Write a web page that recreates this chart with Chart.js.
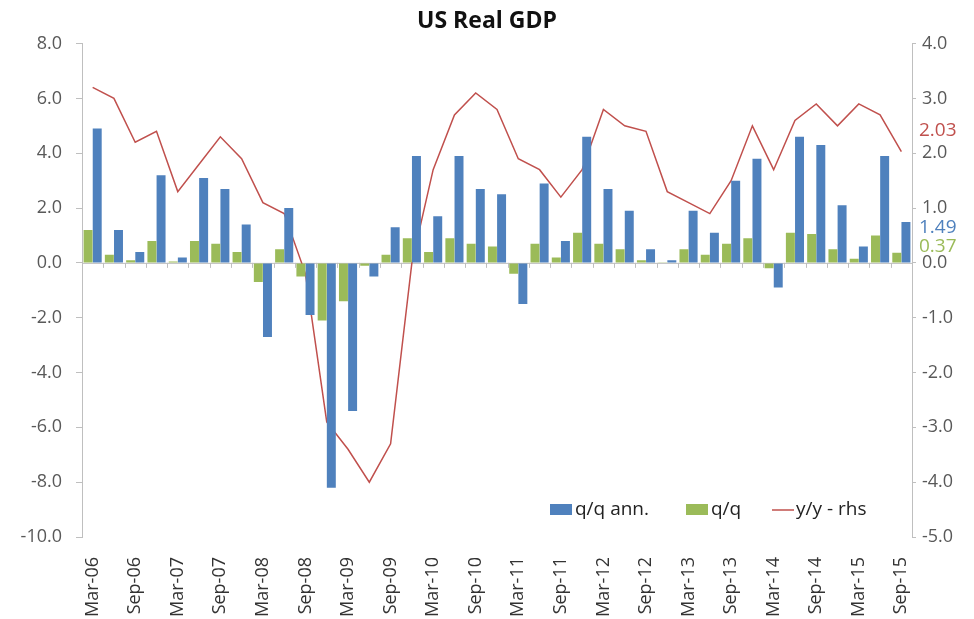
<!DOCTYPE html>
<html>
<head>
<meta charset="utf-8">
<title>US Real GDP</title>
<script src="https://cdn.jsdelivr.net/npm/chart.js@4"></script>
<style>
  html, body { margin: 0; padding: 0; background: #fff; }
  #wrap { width: 974px; height: 619px; position: relative; }
</style>
</head>
<body>
<div id="wrap"><canvas id="gdpChart"></canvas></div>
<script>
const quarters = [
  "Mar-06", "Jun-06", "Sep-06", "Dec-06", "Mar-07", "Jun-07", "Sep-07", "Dec-07",
  "Mar-08", "Jun-08", "Sep-08", "Dec-08", "Mar-09", "Jun-09", "Sep-09", "Dec-09",
  "Mar-10", "Jun-10", "Sep-10", "Dec-10", "Mar-11", "Jun-11", "Sep-11", "Dec-11",
  "Mar-12", "Jun-12", "Sep-12", "Dec-12", "Mar-13", "Jun-13", "Sep-13", "Dec-13",
  "Mar-14", "Jun-14", "Sep-14", "Dec-14", "Mar-15", "Jun-15", "Sep-15"
];

// q/q annualised (lhs)
const qqAnnualised = [
  4.9, 1.2, 0.4, 3.2, 0.2, 3.1, 2.7, 1.4,
  -2.7, 2.0, -1.9, -8.2, -5.4, -0.5, 1.3, 3.9,
  1.7, 3.9, 2.7, 2.5, -1.5, 2.9, 0.8, 4.6,
  2.7, 1.9, 0.5, 0.1, 1.9, 1.1, 3.0, 3.8,
  -0.9, 4.6, 4.3, 2.1, 0.6, 3.9, 1.49
];

// q/q (lhs)
const qqChange = [
  1.2, 0.3, 0.1, 0.8, 0.05, 0.8, 0.7, 0.4,
  -0.7, 0.5, -0.5, -2.1, -1.4, -0.1, 0.3, 0.9,
  0.4, 0.9, 0.7, 0.6, -0.4, 0.7, 0.2, 1.1,
  0.7, 0.5, 0.1, 0.02, 0.5, 0.3, 0.7, 0.9,
  -0.2, 1.1, 1.05, 0.5, 0.15, 1.0, 0.37
];

// y/y (rhs)
const yyChange = [
  3.2, 3.0, 2.2, 2.4, 1.3, 1.8, 2.3, 1.9,
  1.1, 0.9, -0.2, -2.9, -3.4, -4.0, -3.3, 0.0,
  1.7, 2.7, 3.1, 2.8, 1.9, 1.7, 1.2, 1.7,
  2.8, 2.5, 2.4, 1.3, 1.1, 0.9, 1.5, 2.5,
  1.7, 2.6, 2.9, 2.5, 2.9, 2.7, 2.03
];

const BLUE = "#4f81bd";
const GREEN = "#9bbb59";
const RED = "#c0504d";
const AXIS = "#bfbfbf";
const TEXT = "#595959";
const FONT = "'Open Sans', sans-serif";

const overlay = {
  id: "overlay",
  beforeDatasetsDraw(chart) {
    const { ctx, chartArea, scales } = chart;
    const x = scales.x;
    const y0 = scales.y.getPixelForValue(0);
    ctx.save();
    ctx.strokeStyle = AXIS;
    ctx.lineWidth = 1;
    ctx.beginPath();
    ctx.moveTo(chartArea.left, y0 + 0.5);
    ctx.lineTo(chartArea.right, y0 + 0.5);
    const step = x.width / quarters.length;
    for (let i = 0; i <= quarters.length; i++) {
      const px = Math.round(x.left + i * step) + 0.5;
      ctx.moveTo(px, y0);
      ctx.lineTo(px, y0 + 5);
    }
    ctx.stroke();
    ctx.restore();
  },
  afterDraw(chart) {
    const { ctx, chartArea, scales } = chart;
    ctx.save();
    ctx.font = "19px " + FONT;
    ctx.textBaseline = "middle";
    ctx.textAlign = "left";

    // legend inside the plot, bottom right
    const ly = chartArea.bottom - 27;
    let lx = chartArea.left + 468;
    ctx.fillStyle = BLUE;
    ctx.fillRect(lx, ly - 6, 22, 11);
    ctx.fillStyle = "#222";
    ctx.fillText("q/q ann.", lx + 25, ly);
    lx += 136;
    ctx.fillStyle = GREEN;
    ctx.fillRect(lx, ly - 6, 22, 11);
    ctx.fillStyle = "#222";
    ctx.fillText("q/q", lx + 25, ly);
    lx += 86;
    ctx.strokeStyle = RED;
    ctx.lineWidth = 1.5;
    ctx.beginPath();
    ctx.moveTo(lx, ly);
    ctx.lineTo(lx + 22, ly);
    ctx.stroke();
    ctx.fillStyle = "#222";
    ctx.fillText("y/y - rhs", lx + 24, ly);

    // latest values next to the right axis
    const ex = chartArea.right + 7;
    const last = quarters.length - 1;
    ctx.fillStyle = RED;
    ctx.fillText(yyChange[last].toFixed(2), ex, scales.y1.getPixelForValue(yyChange[last]) - 21);
    ctx.fillStyle = BLUE;
    ctx.fillText(qqAnnualised[last].toFixed(2), ex, scales.y.getPixelForValue(qqAnnualised[last]) + 6);
    ctx.fillStyle = GREEN;
    ctx.fillText(qqChange[last].toFixed(2), ex, scales.y.getPixelForValue(qqChange[last]) - 6);
    ctx.restore();
  }
};

new Chart(document.getElementById("gdpChart"), {
  type: "bar",
  data: {
    labels: quarters,
    datasets: [
      {
        label: "q/q",
        data: qqChange,
        backgroundColor: GREEN,
        yAxisID: "y",
        categoryPercentage: 0.86,
        barPercentage: 0.98,
      },
      {
        label: "q/q ann.",
        data: qqAnnualised,
        backgroundColor: BLUE,
        yAxisID: "y",
        categoryPercentage: 0.86,
        barPercentage: 0.98,
      },
      {
        type: "line",
        label: "y/y - rhs",
        data: yyChange,
        borderColor: RED,
        borderWidth: 1.5,
        pointRadius: 0,
        tension: 0,
        fill: false,
        yAxisID: "y1",
      },
    ],
  },
  options: {
    responsive: true,
    maintainAspectRatio: false,
    animation: false,
    layout: { padding: { top: 0, right: 0, bottom: 0, left: 0 } },
    plugins: {
      legend: { display: false },
      tooltip: { enabled: false },
      title: {
        display: true,
        text: "US Real GDP",
        color: "#111",
        font: { family: FONT, size: 23, weight: "bold" },
        padding: { top: 8, bottom: 8 },
      },
    },
    scales: {
      x: {
        offset: true,
        grid: { display: false },
        border: { display: false },
        ticks: {
          autoSkip: false,
          minRotation: 90,
          maxRotation: 90,
          padding: 12,
          color: "#333",
          font: { family: FONT, size: 18 },
          callback: (v, i) => (i % 2 === 0 ? quarters[i] : ""),
        },
        afterFit: (s) => { s.height = 82; },
      },
      y: {
        position: "left",
        min: -10,
        max: 8,
        grid: { drawOnChartArea: false, color: AXIS, tickLength: 6 },
        border: { color: AXIS },
        ticks: {
          stepSize: 2,
          padding: 14,
          color: TEXT,
          font: { family: FONT, size: 18 },
          callback: (v) => v.toFixed(1),
        },
        afterFit: (s) => { s.width = 82; },
      },
      y1: {
        position: "right",
        min: -5,
        max: 4,
        grid: { drawOnChartArea: false, color: AXIS, tickLength: 4 },
        border: { color: AXIS },
        ticks: {
          stepSize: 1,
          padding: 6,
          color: TEXT,
          font: { family: FONT, size: 18 },
          callback: (v) => v.toFixed(1),
        },
        afterFit: (s) => { s.width = 62; },
      },
    },
  },
  plugins: [overlay],
});
</script>
</body>
</html>
